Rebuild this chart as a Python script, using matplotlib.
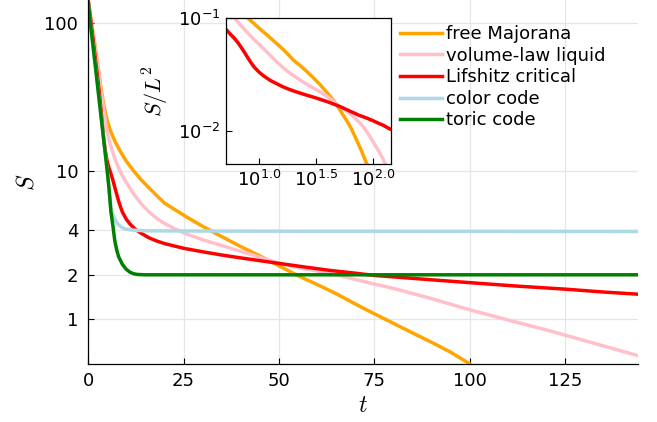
import numpy as np
import matplotlib
matplotlib.use("Agg")
import matplotlib.pyplot as plt

plt.rcParams["font.family"] = ["DejaVu Sans"]
plt.rcParams["mathtext.fontset"] = "cm"

L = 12  # linear system size, used to normalise S in the inset

# entanglement S(t) for each model
t_majorana = [0, 0.5, 1, 1.5, 2, 2.5, 3, 3.5, 4, 5, 6, 7, 8, 9, 10, 12, 14, 16, 18,
              20, 23, 26, 30, 35, 40, 45, 50, 55, 60, 65, 70, 75, 80, 85, 90, 95,
              100, 101]
S_majorana = [144, 118, 97, 80, 66, 53, 43, 35, 29, 22, 18.4, 16, 14.3, 12.9, 11.7,
              10.0, 8.7, 7.7, 6.85, 6.1, 5.45, 4.88, 4.25, 3.62, 3.1, 2.68, 2.3,
              1.97, 1.72, 1.49, 1.27, 1.09, 0.94, 0.81, 0.7, 0.6, 0.5, 0.46]

t_volume = [0, 0.5, 1, 1.5, 2, 2.5, 3, 3.5, 4, 4.5, 5, 6, 7, 8, 9, 10, 12, 14, 16,
            18, 20, 23, 26, 30, 35, 40, 45, 50, 55, 60, 65, 70, 75, 80, 90, 100,
            110, 120, 130, 137, 144]
S_volume = [144, 118, 96, 78, 63, 51, 41, 33, 27, 22, 18.3, 14.6, 12.2, 10.5, 9.3,
            8.4, 7.0, 6.0, 5.3, 4.8, 4.45, 4.05, 3.75, 3.45, 3.15, 2.88, 2.62, 2.40,
            2.24, 2.12, 2.0, 1.86, 1.73, 1.62, 1.38, 1.16, 0.99, 0.85, 0.72, 0.64, 0.57]

t_lifshitz = [0, 0.5, 1, 1.5, 2, 2.5, 3, 3.5, 4, 4.5, 5, 5.5, 6, 6.5, 7, 7.5, 8, 8.5,
              9, 10, 11, 12.4, 14, 16, 18, 20, 25, 30, 35, 40, 48.4, 55, 63.4, 70,
              75, 83, 90, 100, 112, 125, 135, 144]
S_lifshitz = [144, 115, 90, 71, 55, 43, 33, 24, 17.5, 13.8, 11.7, 10.5, 9.6, 8.7,
              7.8, 7.0, 6.3, 5.75, 5.3, 4.75, 4.4, 4.05, 3.8, 3.55, 3.38, 3.25, 3.02,
              2.86, 2.72, 2.6, 2.42, 2.29, 2.14, 2.05, 1.98, 1.91, 1.85, 1.77, 1.68,
              1.6, 1.53, 1.48]

t_color = [0, 0.6, 1, 2, 3, 4, 5, 5.5, 6, 6.5, 7, 7.5, 8, 9, 10, 12, 15, 40, 80, 144]
S_color = [144, 100, 82, 49, 29, 17.2, 10.2, 7.6, 5.6, 5.1, 4.75, 4.5, 4.35, 4.15,
           4.06, 4.0, 3.96, 3.94, 3.93, 3.92]

t_toric = [0, 0.6, 1, 2, 3, 4, 5, 5.5, 6, 6.5, 7, 7.5, 8, 9, 10, 11, 12, 13, 15, 144]
S_toric = [144, 100, 82, 49, 29, 17.2, 10.2, 7.6, 5.3, 4.3, 3.4, 2.95, 2.65, 2.35,
           2.18, 2.08, 2.03, 2.01, 2.0, 2.0]

series = [
    ("free Majorana", t_majorana, S_majorana, "orange"),
    ("volume-law liquid", t_volume, S_volume, "pink"),
    ("Lifshitz critical", t_lifshitz, S_lifshitz, "red"),
    ("color code", t_color, S_color, "lightblue"),
    ("toric code", t_toric, S_toric, "green"),
]

xticks = [0, 25, 50, 75, 100, 125]
yticks = [1, 2, 4, 10, 100]

fig = plt.figure(figsize=(6.57, 4.22), dpi=100)
ax = fig.add_axes([0.134, 0.1374, 0.837, 0.8626])

for name, t, S, c in series:
    ax.plot(t, S, color=c, lw=2.5, label=name)

ax.set_yscale("log")
ax.set_xlim(0, 144)
ax.set_ylim(0.5, 143)
ax.set_xticks(xticks)
ax.set_xticklabels([str(v) for v in xticks])
ax.set_yticks(yticks)
ax.set_yticklabels([str(v) for v in yticks])
ax.yaxis.set_minor_locator(matplotlib.ticker.NullLocator())
ax.tick_params(direction="in", length=4, width=0.8, labelsize=13)
ax.tick_params(axis="y", pad=7)
ax.tick_params(axis="x", pad=6)
ax.grid(True, color="#e6e6e6", lw=0.9)
ax.set_axisbelow(True)
for side in ["top", "right"]:
    ax.spines[side].set_visible(False)
for side in ["left", "bottom"]:
    ax.spines[side].set_linewidth(0.9)

ax.set_xlabel(r"$t$", fontsize=17)
ax.xaxis.set_label_coords(0.5, -0.08)
ax.set_ylabel(r"$S$", fontsize=17)
ax.yaxis.set_label_coords(-0.09, 0.5)

ax.legend(loc="upper left", bbox_to_anchor=(400 / 657, 1 - 25 / 422),
          bbox_transform=fig.transFigure, frameon=False, fontsize=13,
          handlelength=2.3, handletextpad=0.25, labelspacing=0.2,
          borderpad=0, borderaxespad=0)

# inset: S / L^2 on log-log axes
ins = fig.add_axes([0.3435, 0.6114, 0.2511, 0.3453])
for name, t, S, c in series[:3]:
    t = np.asarray(t, dtype=float)
    S = np.asarray(S, dtype=float)
    keep = t > 0
    ins.plot(t[keep], S[keep] / L**2, color=c, lw=2.5)
ins.set_xscale("log")
ins.set_yscale("log")
ins.set_xlim(5.05, 144)
ins.set_ylim(0.00505, 0.1)
ins.xaxis.set_major_locator(matplotlib.ticker.FixedLocator([10, 10**1.5, 100]))
ins.xaxis.set_minor_locator(matplotlib.ticker.NullLocator())
ins.set_xticklabels([r"$\mathdefault{10^{1.0}}$", r"$\mathdefault{10^{1.5}}$",
                     r"$\mathdefault{10^{2.0}}$"])
ins.yaxis.set_major_locator(matplotlib.ticker.FixedLocator([0.01, 0.1]))
ins.yaxis.set_minor_locator(matplotlib.ticker.NullLocator())
ins.set_yticklabels([r"$\mathdefault{10^{-2}}$", r"$\mathdefault{10^{-1}}$"])
ins.tick_params(direction="in", length=4, width=0.8, labelsize=13, pad=4)
for sp in ins.spines.values():
    sp.set_linewidth(0.9)
ins.set_ylabel(r"$S/L^2$", fontsize=16)
ins.yaxis.set_label_coords(-0.33, 0.5)

fig.savefig("out.png", dpi=100)
